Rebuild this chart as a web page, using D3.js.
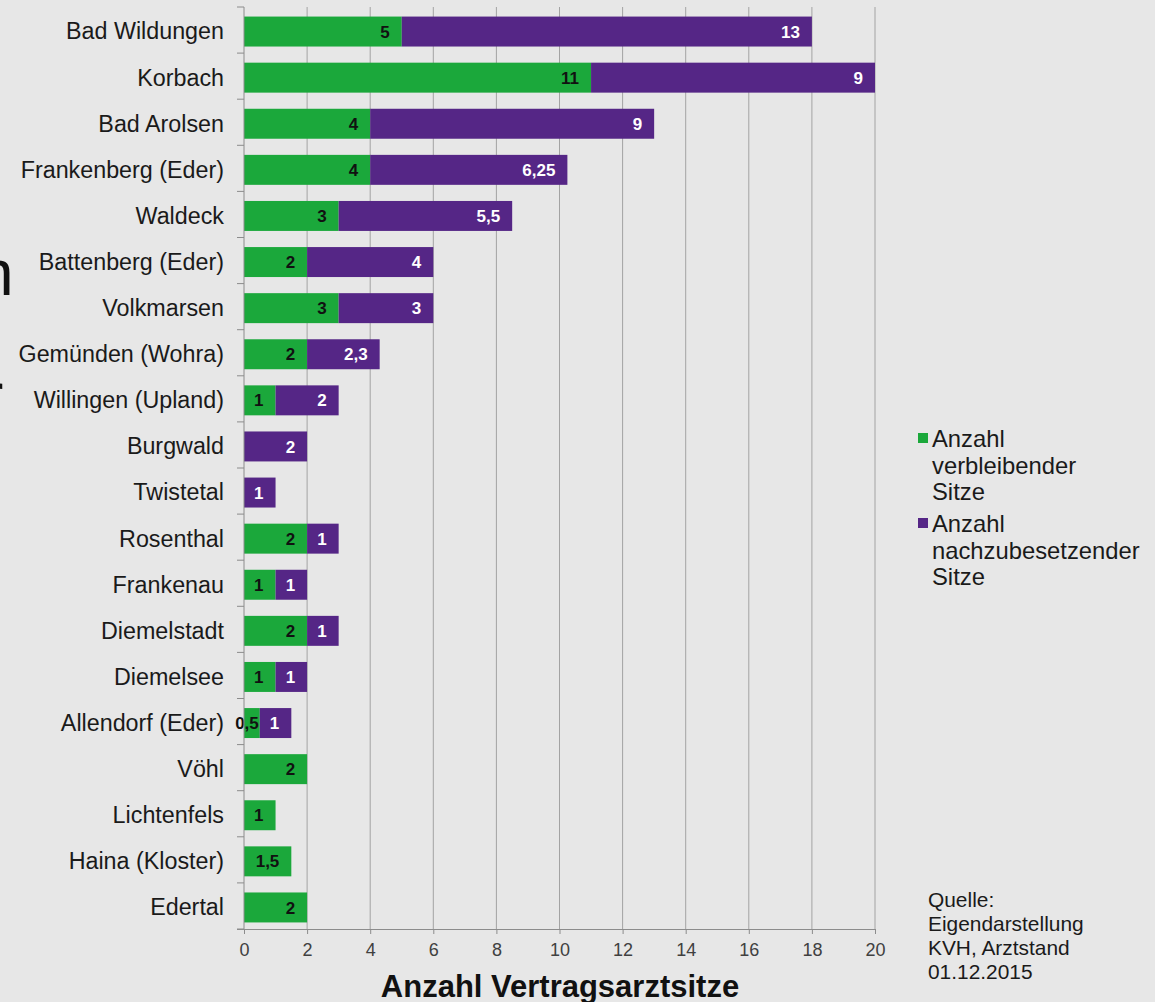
<!DOCTYPE html>
<html>
<head>
<meta charset="utf-8">
<script src="https://cdn.jsdelivr.net/npm/d3@7"></script>
<style>
  html, body { margin: 0; padding: 0; background: #e7e7e7; }
  svg { display: block; font-family: "Liberation Sans", Arial, sans-serif; }
</style>
</head>
<body>
<svg id="chart" width="1155" height="1002"></svg>
<script>
const categories = ["Bad Wildungen","Korbach","Bad Arolsen","Frankenberg (Eder)","Waldeck","Battenberg (Eder)","Volkmarsen","Gemünden (Wohra)","Willingen (Upland)","Burgwald","Twistetal","Rosenthal","Frankenau","Diemelstadt","Diemelsee","Allendorf (Eder)","Vöhl","Lichtenfels","Haina (Kloster)","Edertal"];
const verbleibend = [5,11,4,4,3,2,3,2,1,0,0,2,1,2,1,0.5,2,1,1.5,2];
const nachzubesetzen = [13,9,9,6.25,5.5,4,3,2.3,2,2,1,1,1,1,1,1,0,0,0,0];
const xTicks = [0,2,4,6,8,10,12,14,16,18,20];
const seriesNames = [["Anzahl","verbleibender","Sitze"],["Anzahl","nachzubesetzender","Sitze"]];
const sourceLines = ["Quelle:","Eigendarstellung","KVH, Arztstand","01.12.2015"];
const axisTitle = "Anzahl Vertragsarztsitze";

(function(){
const colors = ["#1ba83b", "#552686"];
const labelColors = ["#111111", "#ffffff"];
const fmt = v => String(v).replace(".", ",");

const svg = d3.select("#chart");
svg.append("rect").attr("width",1155).attr("height",1002).attr("fill","#e7e7e7");

const pLeft = 244, pRight = 875, pTop = 7, pBottom = 929;
const x = d3.scaleLinear().domain([0,20]).range([pLeft,pRight]);
const y = d3.scaleBand().domain(categories).range([pTop,pBottom]).paddingInner(0.35).paddingOuter(0.175);
const yOff = 1.5;

// grid lines
svg.append("g").selectAll("line").data(xTicks.filter(v => v > 0)).join("line")
  .attr("x1", d => x(d)).attr("x2", d => x(d))
  .attr("y1", pTop).attr("y2", pBottom)
  .attr("stroke", "#a3a3a3").attr("stroke-width", 1);

// data rows
const rows = categories.map((c,i) => ({cat:c, v:[verbleibend[i], nachzubesetzen[i]]}));
const segs = [];
rows.forEach(r => {
  let acc = 0;
  r.v.forEach((v,k) => {
    if (v > 0) segs.push({cat:r.cat, k, x0:acc, x1:acc+v, v});
    acc += v;
  });
});

svg.append("g").selectAll("rect").data(segs).join("rect")
  .attr("x", d => x(d.x0)).attr("width", d => x(d.x1) - x(d.x0))
  .attr("y", d => y(d.cat) + yOff).attr("height", y.bandwidth())
  .attr("fill", d => colors[d.k]);

svg.append("g").selectAll("text").data(segs).join("text")
  .attr("x", d => {
    const w = fmt(d.v).length * 9.5;
    const segW = x(d.x1) - x(d.x0);
    return w + 2 > segW ? x(d.x1) - 1 : x(d.x1) - 12;
  })
  .attr("y", d => y(d.cat) + yOff + y.bandwidth()/2)
  .attr("dy", "0.36em")
  .attr("text-anchor", "end")
  .attr("font-size", 17).attr("font-weight", "bold")
  .attr("fill", d => labelColors[d.k])
  .text(d => fmt(d.v));

// y axis
const yAxis = svg.append("g").attr("transform", `translate(${pLeft},0)`)
  .call(d3.axisLeft(y).tickSize(0).tickPadding(20));
yAxis.select(".domain").remove();
yAxis.selectAll("text").attr("font-size", 23.3).attr("fill", "#1a1a1a")
  .attr("font-family", "Liberation Sans, Arial, sans-serif").attr("dy","0.36em")
  .attr("transform","translate(0,1)");
svg.append("line").attr("x1", pLeft).attr("x2", pLeft).attr("y1", pTop).attr("y2", pBottom)
  .attr("stroke", "#8c8c8c");
const bounds = d3.range(categories.length + 1).map(i => pTop + i * y.step());
svg.append("g").selectAll("line").data(bounds).join("line")
  .attr("x1", pLeft - 7).attr("x2", pLeft).attr("y1", d => d).attr("y2", d => d)
  .attr("stroke", "#8c8c8c");

// x axis
const xAxis = svg.append("g").attr("transform", `translate(0,${pBottom})`)
  .call(d3.axisBottom(x).tickValues(xTicks).tickSize(5).tickPadding(10).tickFormat(d => d));
xAxis.select(".domain").attr("stroke", "#8c8c8c").attr("d", `M${pLeft-7},0.5H${pRight}`);
xAxis.selectAll(".tick line").attr("stroke", "#8c8c8c");
xAxis.selectAll("text").attr("font-size", 18).attr("fill", "#404040")
  .attr("font-family", "Liberation Sans, Arial, sans-serif").attr("y", 14);

svg.append("text").attr("x", 560).attr("y", 997)
  .attr("text-anchor", "middle").attr("font-size", 31).attr("font-weight", "bold")
  .attr("fill", "#111").text(axisTitle);

// legend
const legBase = [447, 532];
seriesNames.forEach((lines, k) => {
  svg.append("rect").attr("x", 918).attr("y", legBase[k] - 14).attr("width", 10).attr("height", 10)
    .attr("fill", colors[k]);
  lines.forEach((t, j) => {
    svg.append("text").attr("x", 932).attr("y", legBase[k] + j * 26.5)
      .attr("font-size", 23.8).attr("fill", "#1a1a1a").text(t);
  });
});

// source
sourceLines.forEach((t, j) => {
  svg.append("text").attr("x", 928).attr("y", 907 + j * 24)
    .attr("font-size", 20.9).attr("fill", "#1a1a1a").text(t);
});

// cut-off text fragments on the left edge
svg.append("text").attr("x", -22).attr("y", 295).attr("font-size", 64).attr("fill", "#111").text("n");
svg.append("text").attr("x", -18).attr("y", 418).attr("font-size", 64).attr("fill", "#111").text("r");
})();
</script>
</body>
</html>
